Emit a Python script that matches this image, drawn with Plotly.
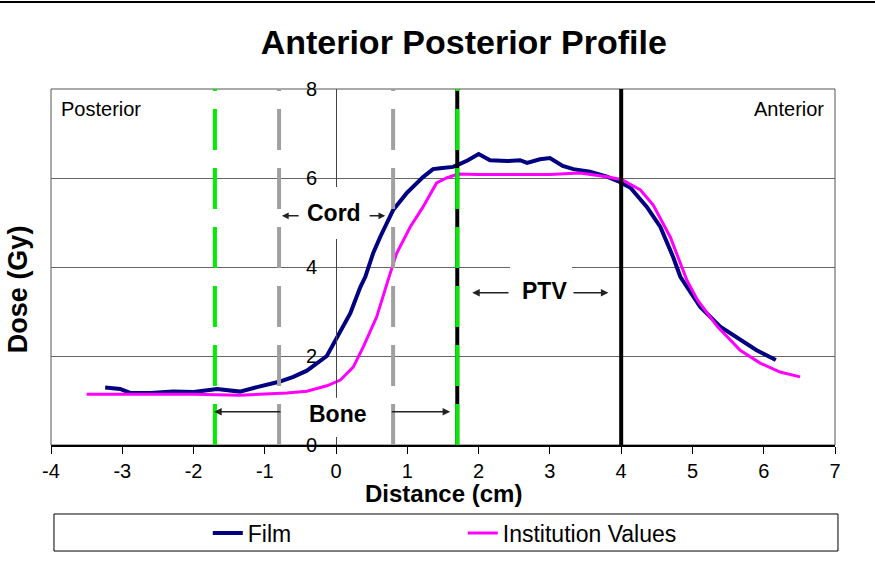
import plotly.graph_objects as go

# ---- data ----
film_x = [-3.24, -3.03, -2.89, -2.6, -2.29, -2.0, -1.67, -1.53, -1.35, -1.11, -0.80, -0.60,
          -0.41, -0.13, 0.01, 0.20, 0.34, 0.41, 0.52, 0.62, 0.80, 0.99, 1.22, 1.36, 1.46,
          1.64, 1.70, 1.85, 2.0, 2.16, 2.40, 2.58, 2.68, 2.86, 3.0, 3.18, 3.33, 3.56, 3.80,
          3.98, 4.13, 4.36, 4.55, 4.73, 4.83, 5.11, 5.39, 5.67, 5.90, 6.17]
film_y = [1.29, 1.26, 1.17, 1.17, 1.20, 1.19, 1.26, 1.24, 1.20, 1.30, 1.42, 1.53,
          1.67, 2.00, 2.40, 2.96, 3.55, 3.78, 4.31, 4.68, 5.28, 5.66, 6.02, 6.20, 6.22,
          6.25, 6.29, 6.40, 6.54, 6.40, 6.38, 6.40, 6.34, 6.42, 6.45, 6.27, 6.20, 6.14, 6.03,
          5.91, 5.78, 5.35, 4.90, 4.22, 3.78, 3.10, 2.66, 2.36, 2.13, 1.91]

inst_x = [-3.50, -3.0, -2.5, -2.0, -1.35, -0.69, -0.41, -0.13, 0.06, 0.24, 0.38, 0.57,
          0.73, 0.85, 1.04, 1.22, 1.41, 1.55, 1.71, 2.0, 2.5, 3.0, 3.42, 3.80, 4.01, 4.27,
          4.45, 4.69, 4.92, 5.07, 5.35, 5.67, 5.95, 6.23, 6.51]
inst_y = [1.14, 1.14, 1.14, 1.14, 1.12, 1.17, 1.21, 1.33, 1.46, 1.75, 2.20, 2.88,
          3.71, 4.31, 4.90, 5.35, 5.89, 6.00, 6.09, 6.08, 6.08, 6.08, 6.11, 6.03, 5.96, 5.73,
          5.39, 4.67, 3.71, 3.26, 2.66, 2.13, 1.84, 1.64, 1.53]

x_ticks = [-4, -3, -2, -1, 0, 1, 2, 3, 4, 5, 6, 7]
y_ticks = [0, 2, 4, 6, 8]

bone_edges = [-1.7, 1.7]
cord_edges = [-0.8, 0.8]
ptv_edges = [1.7, 4.0]

FONT = "Liberation Sans, Arial, sans-serif"

fig = go.Figure()
fig.add_trace(go.Scatter(x=film_x, y=film_y, mode="lines", name="Film",
                         line=dict(color="#000080", width=4)))
fig.add_trace(go.Scatter(x=inst_x, y=inst_y, mode="lines", name="Institution Values",
                         line=dict(color="#FF00FF", width=3)))

shapes = []
# plot frame
shapes.append(dict(type="rect", xref="paper", yref="paper", x0=0, x1=1, y0=0, y1=1,
                   line=dict(color="#555555", width=1), layer="below"))
# white boxes behind labels
shapes.append(dict(type="rect", xref="x", yref="y", x0=-0.50, x1=0.45, y0=4.63, y1=5.80,
                   fillcolor="white", line=dict(width=0), layer="above"))
shapes.append(dict(type="rect", xref="x", yref="y", x0=-0.50, x1=0.50, y0=0.18, y1=1.06,
                   fillcolor="white", line=dict(width=0), layer="above"))
shapes.append(dict(type="rect", xref="x", yref="y", x0=2.44, x1=3.31, y0=3.1, y1=4.12,
                   fillcolor="white", line=dict(width=0), layer="above"))
# PTV solid black lines
for xv in ptv_edges:
    shapes.append(dict(type="line", xref="x", yref="y", x0=xv, x1=xv, y0=0, y1=8,
                       line=dict(color="black", width=4), layer="above"))
# cord gray dashed
for xv in cord_edges:
    shapes.append(dict(type="line", xref="x", yref="y", x0=xv, x1=xv, y0=0, y1=8,
                       line=dict(color="#A0A0A0", width=4, dash="41px,18px"), layer="above"))
# bone green dashed
for xv in bone_edges:
    shapes.append(dict(type="line", xref="x", yref="y", x0=xv, x1=xv, y0=0, y1=8,
                       line=dict(color="#00EE00", width=4, dash="41px,18px"), layer="above"))
# page top rule
shapes.append(dict(type="line", xref="paper", yref="paper", x0=-0.07, x1=1.06,
                   y0=1.2444, y1=1.2444, line=dict(color="black", width=2)))
# legend box
shapes.append(dict(type="rect", xref="paper", yref="paper", x0=0.0038, x1=1.0038,
                   y0=-0.2978, y1=-0.1938, line=dict(color="black", width=1)))

ann = []
lab_font = dict(family=FONT, size=23, color="black")
ann.append(dict(x=-0.03, y=5.21, xref="x", yref="y", text="<b>Cord</b>", showarrow=False, font=lab_font))
ann.append(dict(x=0.03, y=0.70, xref="x", yref="y", text="<b>Bone</b>", showarrow=False, font=lab_font))
ann.append(dict(x=2.93, y=3.46, xref="x", yref="y", text="<b>PTV</b>", showarrow=False, font=lab_font))

def arrow(xh, xt, yv, size=1.0):
    return dict(x=xh, y=yv, ax=xt, ay=yv, xref="x", yref="y", axref="x", ayref="y",
                text="", showarrow=True, arrowhead=2, arrowsize=size, arrowwidth=1.5,
                arrowcolor="#222222")

ann.append(arrow(-1.71, -0.76, 0.75))
ann.append(arrow(1.60, 0.76, 0.75))
ann.append(arrow(-0.76, -0.505, 5.15, 0.9))
ann.append(arrow(0.69, 0.45, 5.15, 0.9))
ann.append(arrow(1.91, 2.44, 3.42))
ann.append(arrow(3.82, 3.31, 3.42))

ann.append(dict(x=0.010, y=0.944, xref="paper", yref="paper", text="Posterior",
                showarrow=False, xanchor="left", yanchor="middle",
                font=dict(family=FONT, size=20, color="black")))
ann.append(dict(x=0.989, y=0.944, xref="paper", yref="paper", text="Anterior",
                showarrow=False, xanchor="right", yanchor="middle",
                font=dict(family=FONT, size=20, color="black")))
# axis titles
ann.append(dict(x=0.5, y=-0.136, xref="paper", yref="paper", text="<b>Distance (cm)</b>",
                showarrow=False, xanchor="center", yanchor="middle",
                font=dict(family=FONT, size=24, color="black")))
ann.append(dict(x=-0.042, y=0.438, xref="paper", yref="paper", text="<b>Dose (Gy)</b>",
                showarrow=False, xanchor="center", yanchor="middle", textangle=-90,
                font=dict(family=FONT, size=27, color="black")))

fig.update_layout(
    width=875, height=568,
    margin=dict(l=51, r=40, t=89, b=123),
    paper_bgcolor="white", plot_bgcolor="white",
    font=dict(family=FONT, color="black"),
    title=dict(text="<b>Anterior Posterior Profile</b>", x=0.530, y=0.926,
               xref="container", yref="container", xanchor="center", yanchor="middle",
               font=dict(family=FONT, size=34, color="black")),
    xaxis=dict(range=[-4, 7], tickvals=x_ticks, ticktext=[str(v) for v in x_ticks],
               showgrid=False, zeroline=False, showline=True, linecolor="black", linewidth=1.5,
               ticks="outside", ticklen=7, tickcolor="black", tickwidth=1,
               tickfont=dict(family=FONT, size=20, color="black"), anchor="y"),
    yaxis=dict(range=[0, 8], tickvals=y_ticks, ticktext=[str(v) for v in y_ticks],
               showgrid=True, gridcolor="#666666", gridwidth=1, zeroline=False,
               showline=True, linecolor="#444444", linewidth=1,
               anchor="free", position=4 / 11, ticks="", ticklabelstandoff=15,
               tickfont=dict(family=FONT, size=20, color="black")),
    shapes=shapes, annotations=ann,
    showlegend=True,
    legend=dict(orientation="h", x=0.2, xanchor="left", y=-0.247, yanchor="middle",
                entrywidth=210, entrywidthmode="pixels", itemwidth=30,
                font=dict(family=FONT, size=23, color="black"),
                bgcolor="rgba(0,0,0,0)", borderwidth=0),
)

fig.write_html("out.html", config={"displayModeBar": False},
               post_script="document.body.style.margin='0px';")
